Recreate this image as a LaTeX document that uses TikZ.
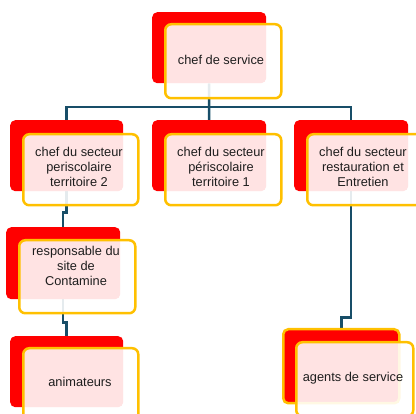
\documentclass[tikz,border=0pt]{standalone}
\usepackage{fontspec}
\setmainfont{Liberation Sans}
\definecolor{conn}{RGB}{24,78,104}
\definecolor{gold}{RGB}{255,192,0}
\definecolor{txtc}{RGB}{30,30,30}
\pgfdeclarelayer{bg}
\pgfsetlayers{bg,main}
\tikzset{
  redbox/.style={rectangle, rounded corners=5pt, fill=red, draw=none, inner sep=0pt, anchor=north west},
  redboxo/.style={redbox, draw=gold, line width=2.5pt},
  frontbox/.style={rectangle, rounded corners=6pt, fill=white, fill opacity=0.89, draw=gold, draw opacity=1, line width=2.5pt, inner sep=0pt, anchor=north west},
  lbl/.style={font=\fontsize{12.8}{14.8}\selectfont, align=center, text=txtc, inner sep=0pt},
  link/.style={draw=conn, line width=2.5pt}
}
\begin{document}
\begin{tikzpicture}[x=1pt,y=-1pt]
\useasboundingbox (0,0) rectangle (416,414);
\clip (0,0) rectangle (416,414);
% red back boxes
\node[redbox, minimum width=114pt, minimum height=71pt] (r0) at (152,12) {};
\node[redbox, minimum width=113pt, minimum height=71pt] (r1) at (10,120) {};
\node[redbox, minimum width=114pt, minimum height=71pt] (r2) at (152,120) {};
\node[redbox, minimum width=114pt, minimum height=71pt] (r3) at (294,120) {};
\node[redbox, minimum width=114pt, minimum height=72pt] (r4) at (6,227) {};
\node[redbox, minimum width=113pt, minimum height=71pt] (r5) at (10,336) {};
\node[redboxo, minimum width=116pt, minimum height=74pt] (r6) at (282,328) {};
% front boxes
\node[frontbox, minimum width=116pt, minimum height=74pt] (f0) at (164,23) {};
\node[frontbox, minimum width=115pt, minimum height=71pt] (f1) at (22,133) {};
\node[frontbox, minimum width=116pt, minimum height=71pt] (f2) at (164,133) {};
\node[frontbox, minimum width=116pt, minimum height=71pt] (f3) at (306,133) {};
\node[frontbox, minimum width=116pt, minimum height=73pt] (f4) at (18,239) {};
\node[frontbox, minimum width=115pt, minimum height=74pt] (f5) at (22,347) {};
\node[frontbox, minimum width=117pt, minimum height=74pt] (f6) at (295,341) {};
% labels
\node[lbl] (t0) at (221,60) {chef de service};
\node[lbl] (t1) at (79,167) {chef du secteur\\periscolaire\\territoire 2};
\node[lbl] (t2) at (221,167) {chef du secteur\\périscolaire\\territoire 1};
\node[lbl] (t3) at (363,167) {chef du secteur\\restauration et\\Entretien};
\node[lbl] (t4) at (76,266) {responsable du\\site de\\Contamine};
\node[lbl] (t5) at (80,382) {animateurs};
\node[lbl] (t6) at (353,378) {agents de service};
% connectors
\begin{pgfonlayer}{bg}
\coordinate (bus) at (209,107);
\draw[link] (r0.south) -- (bus);
\draw[link] (bus) -| (r1.north);
\draw[link] (bus) -- (r2.north);
\draw[link] (bus) -| (r3.north);
\draw[link] (r1.south) -- ++(0,21) -| (r4.north);
\draw[link] (r4.south) -- ++(0,23) -| (r5.north);
\draw[link] (r3.south) -- ++(0,126) -| (r6.north);
\end{pgfonlayer}
\end{tikzpicture}
\end{document}
